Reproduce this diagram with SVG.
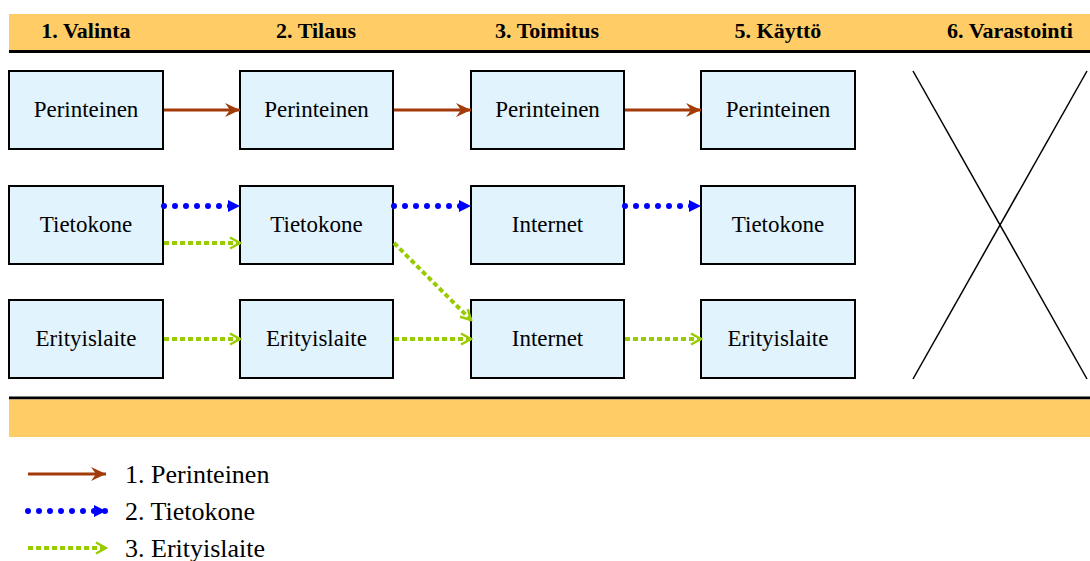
<svg xmlns="http://www.w3.org/2000/svg" width="1090" height="561" viewBox="0 0 1090 561">
<style>
.bar{fill:#ffcc66}
.box{fill:#e1f3fd;stroke:#000;stroke-width:2}
.br{stroke:#a33a0a;stroke-width:3;fill:none;marker-end:url(#mb)}
.bl{stroke:#0000ff;stroke-width:6;stroke-linecap:round;stroke-dasharray:0 11;fill:none;marker-end:url(#ml)}
.gr{stroke:#99cc00;stroke-width:4;stroke-dasharray:5 3;fill:none;marker-end:url(#mg)}
</style>
<defs>
<marker id="mb" markerUnits="userSpaceOnUse" markerWidth="16" markerHeight="14" refX="15" refY="7" orient="auto"><path d="M0,0 L15,7 L0,14 L5,7 z" fill="#a33a0a"/></marker>
<marker id="ml" markerUnits="userSpaceOnUse" markerWidth="14" markerHeight="14" refX="13" refY="7" orient="auto"><path d="M1,1 L13,7 L1,13 z" fill="#0000ff"/></marker>
<marker id="mg" markerUnits="userSpaceOnUse" markerWidth="14" markerHeight="14" refX="12" refY="7" orient="auto"><path d="M2,1.5 L12,7 L2,12.5" fill="none" stroke="#99cc00" stroke-width="2.5"/></marker>
</defs>
<g id="header">
<rect class="bar" x="9" y="14" width="1081" height="37"/>
<line x1="9" y1="51.5" x2="1090" y2="51.5" stroke="#000" stroke-width="3"/>
<g font-family="Liberation Serif, DejaVu Serif, serif" font-weight="bold" font-size="22" text-anchor="middle">
<text x="86" y="38">1. Valinta</text>
<text x="316" y="38">2. Tilaus</text>
<text x="547" y="38">3. Toimitus</text>
<text x="778" y="38">5. Käyttö</text>
<text x="1010" y="38">6. Varastointi</text>
</g>
</g>
<g id="footer">
<line x1="9" y1="398" x2="1090" y2="398" stroke="#000" stroke-width="3"/>
<rect class="bar" x="9" y="399.5" width="1081" height="37.5"/>
</g>
<g font-family="Liberation Serif, DejaVu Serif, serif" font-size="23" text-anchor="middle">
<g id="n11"><rect class="box" x="9" y="71" width="154" height="78"/><text x="86" y="117">Perinteinen</text></g>
<g id="n12"><rect class="box" x="240" y="71" width="153" height="78"/><text x="316.5" y="117">Perinteinen</text></g>
<g id="n13"><rect class="box" x="471" y="71" width="153" height="78"/><text x="547.5" y="117">Perinteinen</text></g>
<g id="n14"><rect class="box" x="701" y="71" width="154" height="78"/><text x="778" y="117">Perinteinen</text></g>
<g id="n21"><rect class="box" x="9" y="186" width="154" height="78"/><text x="86" y="232">Tietokone</text></g>
<g id="n22"><rect class="box" x="240" y="186" width="153" height="78"/><text x="316.5" y="232">Tietokone</text></g>
<g id="n23"><rect class="box" x="471" y="186" width="153" height="78"/><text x="547.5" y="232">Internet</text></g>
<g id="n24"><rect class="box" x="701" y="186" width="154" height="78"/><text x="778" y="232">Tietokone</text></g>
<g id="n31"><rect class="box" x="9" y="300" width="154" height="78"/><text x="86" y="346">Erityislaite</text></g>
<g id="n32"><rect class="box" x="240" y="300" width="153" height="78"/><text x="316.5" y="346">Erityislaite</text></g>
<g id="n33"><rect class="box" x="471" y="300" width="153" height="78"/><text x="547.5" y="346">Internet</text></g>
<g id="n34"><rect class="box" x="701" y="300" width="154" height="78"/><text x="778" y="346">Erityislaite</text></g>
</g>
<g id="cross" stroke="#000" stroke-width="1.5">
<line x1="913" y1="71" x2="1087" y2="379"/>
<line x1="1087" y1="71" x2="913" y2="379"/>
</g>
<g id="connectors">
<line class="br" x1="164" y1="110" x2="240" y2="110"/>
<line class="br" x1="394" y1="110" x2="471" y2="110"/>
<line class="br" x1="625" y1="110" x2="701" y2="110"/>
<line class="bl" x1="164" y1="206" x2="240" y2="206"/>
<line class="bl" x1="394" y1="206" x2="471" y2="206"/>
<line class="bl" x1="625" y1="206" x2="701" y2="206"/>
<line class="gr" x1="164" y1="243" x2="240" y2="243"/>
<line class="gr" x1="394" y1="243" x2="471" y2="320"/>
<line class="gr" x1="164" y1="339" x2="240" y2="339"/>
<line class="gr" x1="394" y1="339" x2="471" y2="339"/>
<line class="gr" x1="625" y1="339" x2="701" y2="339"/>
</g>
<g id="legend">
<line class="br" x1="28" y1="474" x2="106" y2="474"/>
<line class="bl" x1="28" y1="511" x2="106" y2="511"/>
<line class="gr" x1="28" y1="548" x2="106" y2="548"/>
<g font-family="Liberation Serif, DejaVu Serif, serif" font-size="26">
<text x="125" y="483">1. Perinteinen</text>
<text x="125" y="520">2. Tietokone</text>
<text x="125" y="557">3. Erityislaite</text>
</g>
</g>
</svg>
